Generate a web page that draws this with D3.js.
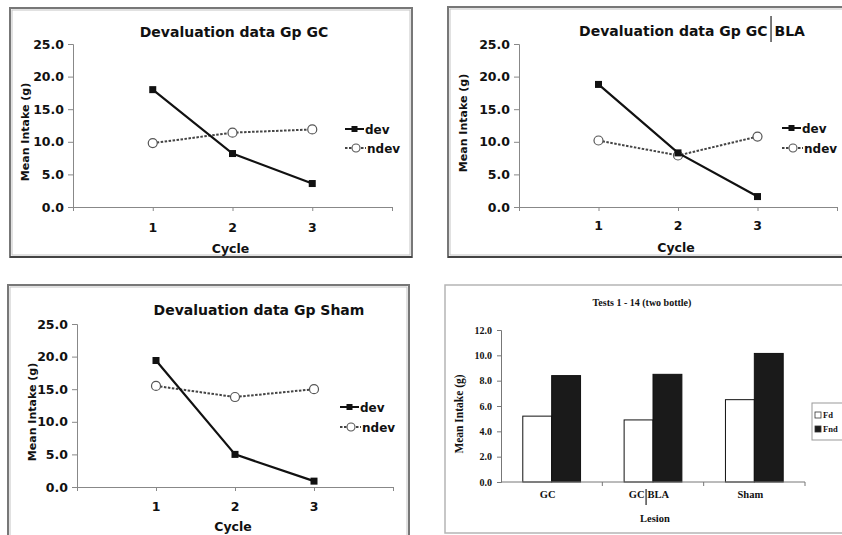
<!DOCTYPE html>
<html>
<head>
<meta charset="utf-8">
<script src="https://cdn.jsdelivr.net/npm/d3@7"></script>
<style>
  html, body { margin: 0; padding: 0; background: #fff; }
  svg { display: block; }
</style>
</head>
<body>
<div id="chart"></div>
<script>
// ---- Data -------------------------------------------------------------
const cycles = [1, 2, 3];
const yTicksLine = [0, 5, 10, 15, 20, 25];

const gcDev = [18.0, 8.2, 3.6];
const gcNdev = [9.8, 11.4, 11.9];

const gcBlaDev = [18.8, 8.3, 1.6];
const gcBlaNdev = [10.2, 7.9, 10.8];

const shamDev = [19.4, 5.0, 0.9];
const shamNdev = [15.5, 13.8, 15.0];

const seriesNames = ["dev", "ndev"];

const lesions = ["GC", "GC|BLA", "Sham"];
const barKeys = ["Fd", "Fnd"];
const fdValues = [5.2, 4.9, 6.5];
const fndValues = [8.4, 8.5, 10.15];
const yTicksBar = [0, 2, 4, 6, 8, 10, 12];

// ---- Setup ------------------------------------------------------------
const W = 842, H = 535;
const svg = d3.select("#chart").append("svg")
  .attr("width", W).attr("height", H)
  .attr("viewBox", `0 0 ${W} ${H}`);

const SANS = "'DejaVu Sans', Verdana, sans-serif";
const SERIF = "'Liberation Serif', 'Times New Roman', serif";

// Text that may contain a "|" separator drawn as a tall vertical rule.
function splitText(g, str, cx, y, font, size, rule) {
  const parts = str.split("|");
  const grp = g.append("g");
  if (parts.length === 1) {
    grp.append("text").attr("x", cx).attr("y", y)
      .attr("text-anchor", "middle")
      .attr("font-family", font).attr("font-weight", "bold")
      .attr("font-size", size).attr("fill", "#111").text(str);
    return;
  }
  const gap = rule.gap;
  const t1 = grp.append("text").attr("x", 0).attr("y", y)
    .attr("font-family", font).attr("font-weight", "bold")
    .attr("font-size", size).attr("fill", "#111").text(parts[0]);
  const w1 = t1.node().getComputedTextLength();
  const t2 = grp.append("text").attr("x", w1 + gap * 2).attr("y", y)
    .attr("font-family", font).attr("font-weight", "bold")
    .attr("font-size", size).attr("fill", "#111").text(parts[1]);
  const w2 = t2.node().getComputedTextLength();
  grp.append("line")
    .attr("x1", w1 + gap).attr("x2", w1 + gap)
    .attr("y1", y - rule.up).attr("y2", y + rule.down)
    .attr("stroke", "#222").attr("stroke-width", 1.2);
  const total = w1 + gap * 2 + w2;
  grp.attr("transform", `translate(${cx - total / 2},0)`);
}

// Grey picture-frame border around a line-chart panel.
function frame(x, y, w, h) {
  svg.append("rect").attr("x", x).attr("y", y).attr("width", w).attr("height", h)
    .attr("fill", "none").attr("stroke", "#777").attr("stroke-width", 2);
  svg.append("rect").attr("x", x + 2).attr("y", y + 2).attr("width", w - 4).attr("height", h - 4)
    .attr("fill", "none").attr("stroke", "#c4c4c4").attr("stroke-width", 1);
  svg.append("line").attr("x1", x).attr("x2", x + w).attr("y1", y + h).attr("y2", y + h)
    .attr("stroke", "#444").attr("stroke-width", 2);
}

// ---- Line chart panel -------------------------------------------------
function lineChart(c) {
  frame(c.frame[0], c.frame[1], c.frame[2], c.frame[3]);
  const g = svg.append("g");

  const x = d3.scaleLinear().domain([0, cycles.length + 1]).range([c.left, c.right]);
  const y = d3.scaleLinear().domain([0, 25]).range([c.bottom, c.top]);

  // y axis
  const yAxis = g.append("g").attr("transform", `translate(${c.left},0)`)
    .call(d3.axisLeft(y).tickValues(yTicksLine).tickSize(5).tickPadding(4)
      .tickFormat(d3.format(".1f")));
  yAxis.select(".domain").attr("stroke", "#888");
  yAxis.selectAll(".tick line").attr("stroke", "#888");
  yAxis.selectAll("text").attr("font-family", SANS).attr("font-weight", "bold")
    .attr("font-size", 12.5).attr("fill", "#111");

  // x axis
  const xAxis = g.append("g").attr("transform", `translate(0,${c.bottom})`)
    .call(d3.axisBottom(x).tickValues(d3.range(0, cycles.length + 2)).tickSize(4)
      .tickSizeOuter(0).tickFormat(""));
  xAxis.select(".domain").attr("stroke", "#888");
  xAxis.selectAll(".tick line").attr("stroke", "#888");
  g.selectAll(".cat").data(cycles).enter().append("text")
    .attr("x", d => x(d)).attr("y", c.catY).attr("text-anchor", "middle")
    .attr("font-family", SANS).attr("font-weight", "bold").attr("font-size", 12.5)
    .attr("fill", "#111").text(d => d);

  // titles
  splitText(g, c.title, c.titleX, c.titleY, SANS, 14, { gap: 3.5, up: 20, down: 6 });
  g.append("text").attr("x", (c.left + c.right) / 2 - 2).attr("y", c.cycleY)
    .attr("text-anchor", "middle").attr("font-family", SANS).attr("font-weight", "bold")
    .attr("font-size", 12.5).attr("fill", "#111").text("Cycle");
  g.append("text")
    .attr("transform", `translate(${c.ylabX},${c.ylabY}) rotate(-90)`)
    .attr("text-anchor", "middle").attr("font-family", SANS).attr("font-weight", "bold")
    .attr("font-size", 11).attr("fill", "#111").text("Mean Intake (g)");

  const line = d3.line().x((d, i) => x(cycles[i])).y(d => y(d));

  // ndev: dashed line with open circles
  g.append("path").datum(c.ndev).attr("d", line).attr("fill", "none")
    .attr("stroke", "#444").attr("stroke-width", 2).attr("stroke-dasharray", "2.5,1.5");
  g.selectAll(".nd").data(c.ndev).enter().append("circle")
    .attr("cx", (d, i) => x(cycles[i])).attr("cy", d => y(d)).attr("r", 4.5)
    .attr("fill", "#fff").attr("stroke", "#555").attr("stroke-width", 1.2);

  // dev: solid line with filled squares
  g.append("path").datum(c.dev).attr("d", line).attr("fill", "none")
    .attr("stroke", "#111").attr("stroke-width", 2.2);
  g.selectAll(".dv").data(c.dev).enter().append("rect")
    .attr("x", (d, i) => x(cycles[i]) - 3.5).attr("y", d => y(d) - 3.5)
    .attr("width", 7).attr("height", 7).attr("fill", "#111");

  // legend
  const lx = c.legX;
  seriesNames.forEach((name, i) => {
    const ly = c.legY[i];
    const lg = g.append("g");
    if (name === "dev") {
      lg.append("line").attr("x1", lx).attr("x2", lx + 19).attr("y1", ly).attr("y2", ly)
        .attr("stroke", "#111").attr("stroke-width", 2);
      lg.append("rect").attr("x", lx + 6.5).attr("y", ly - 3).attr("width", 6).attr("height", 6)
        .attr("fill", "#111");
    } else {
      lg.append("line").attr("x1", lx).attr("x2", lx + 21).attr("y1", ly).attr("y2", ly)
        .attr("stroke", "#444").attr("stroke-width", 2).attr("stroke-dasharray", "2.5,1.5");
      lg.append("circle").attr("cx", lx + 11).attr("cy", ly).attr("r", 4)
        .attr("fill", "#fff").attr("stroke", "#555").attr("stroke-width", 1.1);
    }
    lg.append("text").attr("x", lx + (name === "dev" ? 20 : 22)).attr("y", ly + 4.5)
      .attr("font-family", SANS).attr("font-weight", "bold").attr("font-size", 12)
      .attr("fill", "#111").text(name);
  });
}

lineChart({
  frame: [10, 8, 402, 249], left: 73, right: 392, top: 44, bottom: 207,
  title: "Devaluation data Gp GC", titleX: 234, titleY: 37,
  catY: 232, cycleY: 253, ylabX: 29, ylabY: 132,
  dev: gcDev, ndev: gcNdev, legX: 345, legY: [129, 148]
});

lineChart({
  frame: [448, 7, 400, 250], left: 519, right: 837, top: 44, bottom: 207,
  title: "Devaluation data Gp GC|BLA", titleX: 692, titleY: 36,
  catY: 230, cycleY: 252, ylabX: 467, ylabY: 123,
  dev: gcBlaDev, ndev: gcBlaNdev, legX: 782, legY: [128, 148]
});

lineChart({
  frame: [8, 285, 401, 260], left: 77, right: 393, top: 324, bottom: 487,
  title: "Devaluation data Gp Sham", titleX: 259, titleY: 315,
  catY: 511, cycleY: 531, ylabX: 36, ylabY: 412,
  dev: shamDev, ndev: shamNdev, legX: 340, legY: [407, 427]
});

// ---- Bar chart panel --------------------------------------------------
(function barChart() {
  svg.append("rect").attr("x", 445).attr("y", 285).attr("width", 410).attr("height", 248)
    .attr("fill", "none").attr("stroke", "#b5b5b5").attr("stroke-width", 1.5);
  const g = svg.append("g");
  const left = 501, right = 805, top = 330, bottom = 482;

  const x0 = d3.scaleBand().domain(lesions).range([left, right]).paddingInner(0.43).paddingOuter(0.215);
  const x1 = d3.scaleBand().domain(barKeys).range([0, x0.bandwidth()]);
  const y = d3.scaleLinear().domain([0, 12]).range([bottom, top]);

  const yAxis = g.append("g").attr("transform", `translate(${left},0)`)
    .call(d3.axisLeft(y).tickValues(yTicksBar).tickSize(4).tickPadding(5)
      .tickFormat(d3.format(".1f")));
  yAxis.select(".domain").attr("stroke", "#777");
  yAxis.selectAll(".tick line").attr("stroke", "#777");
  yAxis.selectAll("text").attr("font-family", SERIF).attr("font-weight", "bold")
    .attr("font-size", 10).attr("fill", "#111");

  const rows = lesions.map((l, i) => ({ lesion: l, Fd: fdValues[i], Fnd: fndValues[i] }));
  const groups = g.selectAll(".grp").data(rows).enter().append("g")
    .attr("transform", d => `translate(${x0(d.lesion)},0)`);
  groups.selectAll("rect").data(d => barKeys.map(k => ({ key: k, value: d[k] }))).enter()
    .append("rect")
    .attr("x", d => x1(d.key)).attr("y", d => y(d.value))
    .attr("width", x1.bandwidth()).attr("height", d => bottom - y(d.value))
    .attr("fill", d => d.key === "Fd" ? "#fff" : "#1a1a1a")
    .attr("stroke", "#111").attr("stroke-width", 1);

  // x axis with ticks at category boundaries
  g.append("line").attr("x1", left).attr("x2", right).attr("y1", bottom).attr("y2", bottom)
    .attr("stroke", "#777").attr("stroke-width", 1);
  g.selectAll(".xt").data(d3.range(1, lesions.length + 1)).enter().append("line")
    .attr("x1", d => left + d * (right - left) / lesions.length)
    .attr("x2", d => left + d * (right - left) / lesions.length)
    .attr("y1", bottom).attr("y2", bottom + 4).attr("stroke", "#777");

  lesions.forEach(l => {
    splitText(g, l, x0(l) + x0.bandwidth() / 2 - 4, 498, SERIF, 10.5, { gap: 1.5, up: 9, down: 7 });
  });

  g.append("text").attr("x", 642).attr("y", 306).attr("text-anchor", "middle")
    .attr("font-family", SERIF).attr("font-weight", "bold").attr("font-size", 10)
    .attr("fill", "#111").text("Tests 1 - 14 (two bottle)");
  g.append("text").attr("x", 655).attr("y", 522).attr("text-anchor", "middle")
    .attr("font-family", SERIF).attr("font-weight", "bold").attr("font-size", 10.5)
    .attr("fill", "#111").text("Lesion");
  g.append("text").attr("transform", "translate(463,414) rotate(-90)")
    .attr("text-anchor", "middle").attr("font-family", SERIF).attr("font-weight", "bold")
    .attr("font-size", 11.5).attr("fill", "#111").text("Mean Intake (g)");

  // legend
  g.append("rect").attr("x", 812).attr("y", 403).attr("width", 40).attr("height", 37)
    .attr("fill", "#fff").attr("stroke", "#999").attr("stroke-width", 1);
  barKeys.forEach((k, i) => {
    const ly = 415 + i * 14;
    g.append("rect").attr("x", 815).attr("y", ly - 3).attr("width", 6).attr("height", 6)
      .attr("fill", k === "Fd" ? "#fff" : "#1a1a1a").attr("stroke", "#333").attr("stroke-width", 0.8);
    g.append("text").attr("x", 823).attr("y", ly + 3).attr("font-family", SERIF)
      .attr("font-weight", "bold").attr("font-size", 8.5).attr("fill", "#111").text(k);
  });
})();
</script>
</body>
</html>
